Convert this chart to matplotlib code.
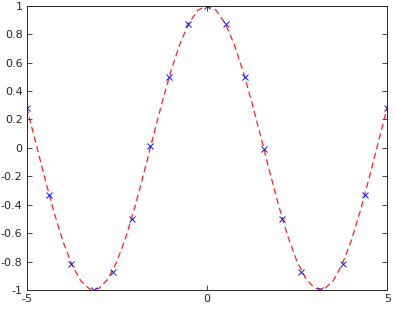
import numpy as np
import matplotlib
matplotlib.use('Agg')
import matplotlib.pyplot as plt

# sample points (blue crosses)
xs = [-5.0, -4.38, -3.76, -3.14, -2.62, -2.09, -1.57, -1.05, -0.52, 0.0,
      0.52, 1.05, 1.57, 2.09, 2.62, 3.14, 3.76, 4.38, 5.0]
ys = [0.28, -0.33, -0.82, -1.0, -0.87, -0.5, 0.01, 0.5, 0.87, 1.0,
      0.87, 0.5, -0.01, -0.5, -0.87, -1.0, -0.82, -0.33, 0.28]

# dashed curve, read every 0.25
curve_x = [-5.0, -4.75, -4.5, -4.25, -4.0, -3.75, -3.5, -3.25, -3.0, -2.75,
           -2.5, -2.25, -2.0, -1.75, -1.5, -1.25, -1.0, -0.75, -0.5, -0.25,
           0.0, 0.25, 0.5, 0.75, 1.0, 1.25, 1.5, 1.75, 2.0, 2.25,
           2.5, 2.75, 3.0, 3.25, 3.5, 3.75, 4.0, 4.25, 4.5, 4.75, 5.0]
curve_y = [0.284, 0.038, -0.211, -0.446, -0.654, -0.820, -0.936, -0.994, -0.990, -0.924,
           -0.801, -0.628, -0.416, -0.178, 0.071, 0.315, 0.540, 0.732, 0.878, 0.969,
           1.0, 0.969, 0.878, 0.732, 0.540, 0.315, 0.071, -0.178, -0.416, -0.628,
           -0.801, -0.924, -0.990, -0.994, -0.936, -0.820, -0.654, -0.446, -0.211, 0.038, 0.284]

xticks = [-5, 0, 5]
yticks = [-1, -0.8, -0.6, -0.4, -0.2, 0, 0.2, 0.4, 0.6, 0.8, 1]
ytick_labels = ['-1', '-0.8', '-0.6', '-0.4', '-0.2', '0', '0.2', '0.4', '0.6', '0.8', '1']

fig = plt.figure(figsize=(3.94, 3.09), dpi=100)
ax = fig.add_axes([0.0678, 0.0615, 0.915, 0.92])

ax.plot(curve_x, curve_y, color='#ff2020', linestyle=(0, (5, 3)), linewidth=0.9)
ax.plot(xs, ys, linestyle='none', marker='x', color='#1010ff', markersize=5, markeredgewidth=0.7)

ax.set_xlim(-5, 5)
ax.set_ylim(-1, 1)
ax.set_xticks(xticks)
ax.set_xticklabels([str(t) for t in xticks])
ax.set_yticks(yticks)
ax.set_yticklabels(ytick_labels)

ax.tick_params(direction='in', length=3.5, width=0.6, top=True, right=True,
               labelsize=8, colors='#262626', pad=3)
for s in ax.spines.values():
    s.set_linewidth(0.7)
    s.set_color('#262626')

fig.savefig('out.png', dpi=100)
